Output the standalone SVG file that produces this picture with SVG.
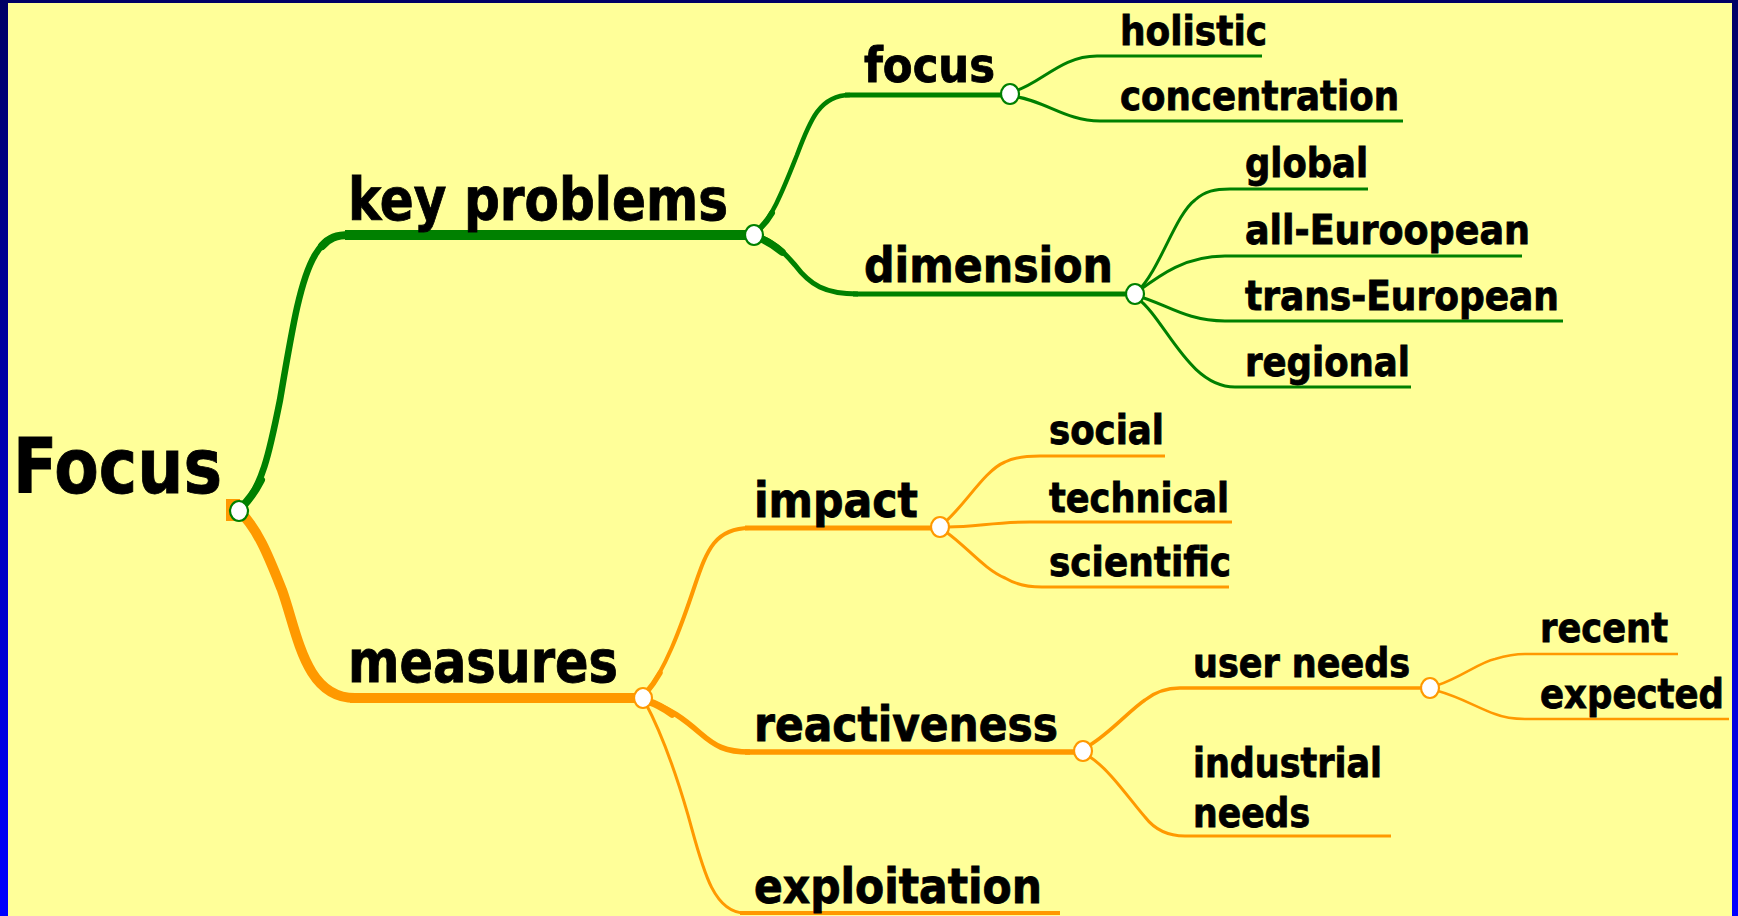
<svg xmlns="http://www.w3.org/2000/svg" width="1738" height="916" viewBox="0 0 1738 916">
<style>
text{font-family:"DejaVu Sans Condensed","DejaVu Sans",sans-serif;font-weight:bold;font-stretch:condensed;fill:#000;stroke:#000;stroke-width:0.8}
.t1{font-size:77px}.t2{font-size:58px}.t3{font-size:48px}.t4{font-size:40px}
.g{stroke:#008000;fill:none;stroke-linejoin:round}
.o{stroke:#FF9900;fill:none;stroke-linejoin:round}
.r{stroke-linecap:round}
.dot{fill:#fff;stroke-width:2.2}
.dg{stroke:#008000}.do{stroke:#FF9900}
</style>
<defs>
<linearGradient id="frame" x1="0" y1="0" x2="0" y2="1">
<stop offset="0" stop-color="#000066"/>
<stop offset="1" stop-color="#0000FF"/>
</linearGradient>
</defs>
<rect x="0" y="0" width="1738" height="916" fill="url(#frame)"/>
<rect x="8" y="3" width="1724" height="913" fill="#FFFF99"/>

<g id="connectors">
<!-- main green -->
<path class="g" stroke-width="6.5" d="M 239 511 C 262 490, 270 450, 280 400 C 292 330, 300 280, 315 255 C 325 238, 335 235, 350 235"/>
<path class="g r" stroke-width="8" d="M 240 509 C 250 499, 256 490, 261 480"/>
<path class="g r" stroke-width="8" d="M 322 246 C 329 238, 336 235, 350 235"/>
<path class="g" stroke-width="10" d="M 345 235 H 754"/>
<!-- main orange -->
<rect x="226" y="499" width="14" height="22" fill="#FF9900"/>
<path class="o" stroke-width="10" d="M 239 511 C 258 528, 270 560, 282 590 C 298 635, 305 698, 355 698"/>
<path class="o" stroke-width="10" d="M 350 698 H 643"/>
<!-- key problems children -->
<path class="g" stroke-width="4.5" d="M 754 235 C 772 220, 785 185, 797 155 C 810 120, 820 95, 850 95"/>
<path class="g r" stroke-width="6" d="M 756 232 C 763 226, 768 220, 772 213"/>
<path class="g" stroke-width="5" d="M 845 95 H 1010"/>
<path class="g" stroke-width="5" d="M 754 235 C 772 240, 782 250, 795 265 C 810 285, 825 294, 858 294"/>
<path class="g r" stroke-width="7.5" d="M 757 237 C 768 241, 775 246, 782 252"/>
<path class="g" stroke-width="5" d="M 853 294 H 1135"/>
<!-- focus children -->
<path class="g" stroke-width="3" d="M 1012 92 C 1040 85, 1060 56, 1097 56 H 1262"/>
<path class="g" stroke-width="3" d="M 1012 96 C 1045 100, 1065 121, 1100 121 H 1403"/>
<!-- dimension children -->
<path class="g" stroke-width="3" d="M 1137 292 C 1160 270, 1175 215, 1195 200 C 1205 191, 1215 189, 1230 189 H 1368"/>
<path class="g" stroke-width="3" d="M 1137 292 C 1160 275, 1185 256, 1225 256 H 1522"/>
<path class="g" stroke-width="3" d="M 1137 296 C 1165 303, 1185 321, 1225 321 H 1563"/>
<path class="g" stroke-width="3" d="M 1137 298 C 1165 318, 1188 387, 1235 387 H 1411"/>
<!-- measures children -->
<path class="o" stroke-width="4" d="M 645 695 C 665 670, 680 630, 695 585 C 707 550, 715 528, 750 528"/>
<path class="o r" stroke-width="5.5" d="M 646 693 C 652 686, 656 680, 660 673"/>
<path class="o" stroke-width="5" d="M 745 528 H 940"/>
<path class="o" stroke-width="5.5" d="M 645 700 C 670 708, 685 720, 700 733 C 715 746, 725 752, 750 752"/>
<path class="o r" stroke-width="7.5" d="M 647 701 C 657 704, 665 709, 672 714"/>
<path class="o" stroke-width="5.5" d="M 745 752 H 1083"/>
<path class="o" stroke-width="3" d="M 645 702 C 660 730, 675 770, 688 815 C 702 865, 712 913, 745 913"/>
<path class="o" stroke-width="4" d="M 740 913 H 1060"/>
<!-- impact children -->
<path class="o" stroke-width="3" d="M 945 522 C 965 505, 985 470, 1005 462 C 1015 457, 1025 456, 1040 456 H 1165"/>
<path class="o" stroke-width="3" d="M 948 527 C 975 527, 995 522, 1030 522 H 1232"/>
<path class="o" stroke-width="3" d="M 946 532 C 965 545, 985 570, 1005 578 C 1015 584, 1025 587, 1042 587 H 1229"/>
<!-- reactiveness children -->
<path class="o" stroke-width="3.5" d="M 1090 745 C 1110 733, 1130 710, 1145 700 C 1155 692, 1165 688, 1180 688 H 1430"/>
<path class="o" stroke-width="3" d="M 1090 757 C 1110 770, 1130 800, 1145 817 C 1155 830, 1168 836, 1185 836 H 1391"/>
<!-- user needs children -->
<path class="o" stroke-width="2.5" d="M 1438 685 C 1460 678, 1480 662, 1495 659 C 1505 656, 1512 654, 1525 654 H 1678"/>
<path class="o" stroke-width="2.5" d="M 1438 691 C 1460 697, 1478 708, 1495 714 C 1505 718, 1512 719, 1525 719 H 1729"/>
</g>

<g id="n-root">
<text class="t1" x="13" y="493" textLength="209" lengthAdjust="spacingAndGlyphs">Focus</text>
<ellipse class="dot dg" cx="239" cy="511" rx="9" ry="10"/>
</g>
<g id="n-keyproblems">
<text class="t2" x="348" y="220" textLength="380" lengthAdjust="spacingAndGlyphs">key problems</text>
<ellipse class="dot dg" cx="754" cy="235" rx="9" ry="10"/>
</g>
<g id="n-focus">
<text class="t3" x="864" y="82" textLength="131" lengthAdjust="spacingAndGlyphs">focus</text>
<ellipse class="dot dg" cx="1010" cy="94" rx="9" ry="10"/>
</g>
<g id="n-holistic"><text class="t4" x="1120" y="45" textLength="147" lengthAdjust="spacingAndGlyphs">holistic</text></g>
<g id="n-concentration"><text class="t4" x="1120" y="110" textLength="279" lengthAdjust="spacingAndGlyphs">concentration</text></g>
<g id="n-dimension">
<text class="t3" x="864" y="282" textLength="249" lengthAdjust="spacingAndGlyphs">dimension</text>
<ellipse class="dot dg" cx="1135" cy="294" rx="9" ry="10"/>
</g>
<g id="n-global"><text class="t4" x="1245" y="177" textLength="123" lengthAdjust="spacingAndGlyphs">global</text></g>
<g id="n-alleuro"><text class="t4" x="1245" y="244" textLength="285" lengthAdjust="spacingAndGlyphs">all-Euroopean</text></g>
<g id="n-transeuro"><text class="t4" x="1245" y="310" textLength="314" lengthAdjust="spacingAndGlyphs">trans-European</text></g>
<g id="n-regional"><text class="t4" x="1245" y="376" textLength="165" lengthAdjust="spacingAndGlyphs">regional</text></g>
<g id="n-measures">
<text class="t2" x="348" y="682" textLength="270" lengthAdjust="spacingAndGlyphs">measures</text>
<ellipse class="dot do" cx="643" cy="698" rx="9" ry="10"/>
</g>
<g id="n-impact">
<text class="t3" x="754" y="517" textLength="164" lengthAdjust="spacingAndGlyphs">impact</text>
<ellipse class="dot do" cx="940" cy="527" rx="9" ry="10"/>
</g>
<g id="n-social"><text class="t4" x="1049" y="444" textLength="115" lengthAdjust="spacingAndGlyphs">social</text></g>
<g id="n-technical"><text class="t4" x="1049" y="512" textLength="180" lengthAdjust="spacingAndGlyphs">technical</text></g>
<g id="n-scientific"><text class="t4" x="1049" y="576" textLength="182" lengthAdjust="spacingAndGlyphs">scientific</text></g>
<g id="n-reactiveness">
<text class="t3" x="754" y="741" textLength="304" lengthAdjust="spacingAndGlyphs">reactiveness</text>
<ellipse class="dot do" cx="1083" cy="751" rx="9" ry="10"/>
</g>
<g id="n-userneeds">
<text class="t4" x="1193" y="677" textLength="217" lengthAdjust="spacingAndGlyphs">user needs</text>
<ellipse class="dot do" cx="1430" cy="688" rx="9" ry="10"/>
</g>
<g id="n-recent"><text class="t4" x="1540" y="642" textLength="128" lengthAdjust="spacingAndGlyphs">recent</text></g>
<g id="n-expected"><text class="t4" x="1540" y="708" textLength="184" lengthAdjust="spacingAndGlyphs">expected</text></g>
<g id="n-industrial">
<text class="t4" x="1193" y="777" textLength="189" lengthAdjust="spacingAndGlyphs">industrial</text>
<text class="t4" x="1193" y="827" textLength="117" lengthAdjust="spacingAndGlyphs">needs</text>
</g>
<g id="n-exploitation"><text class="t3" x="754" y="903" textLength="288" lengthAdjust="spacingAndGlyphs">exploitation</text></g>
</svg>
